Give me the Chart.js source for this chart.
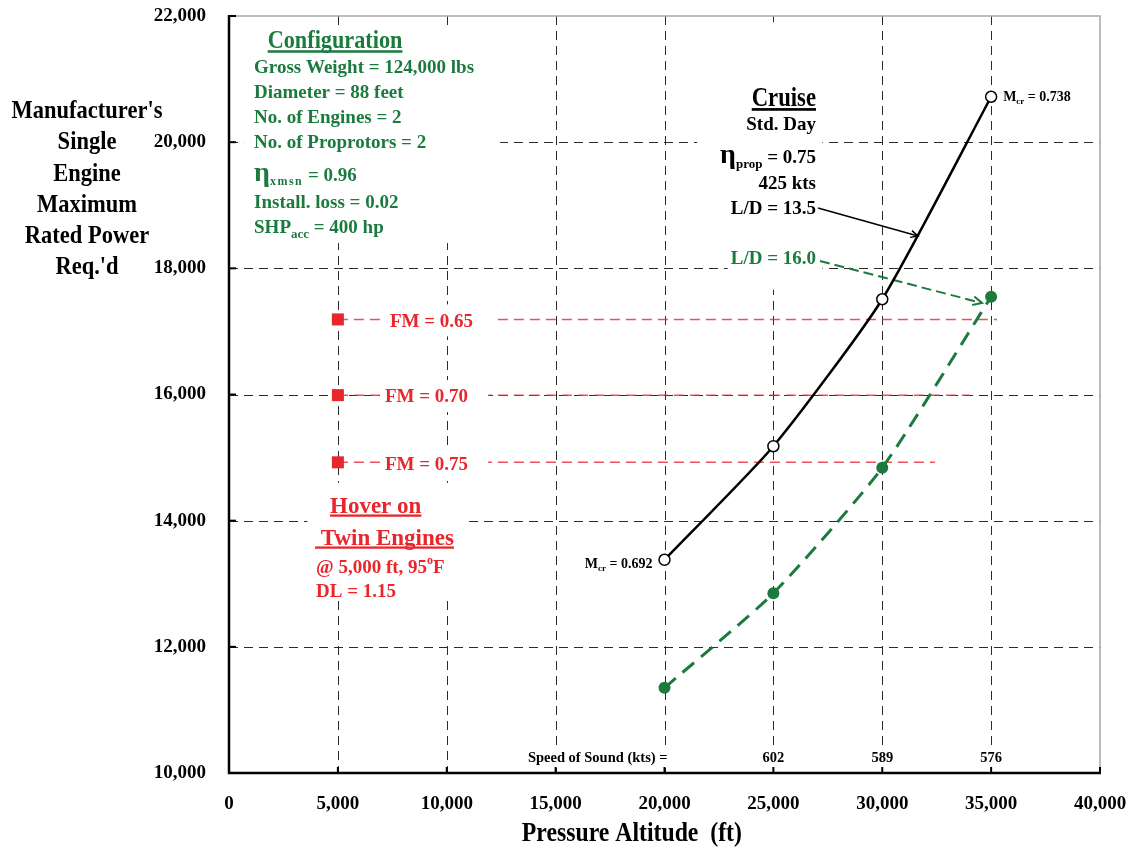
<!DOCTYPE html>
<html>
<head>
<meta charset="utf-8">
<script src="https://cdn.jsdelivr.net/npm/chart.js@4.4.1/dist/chart.umd.min.js"></script>
<style>
  html, body { margin: 0; padding: 0; background: #fff; }
  canvas { display: block; }
</style>
</head>
<body>
<canvas id="c" width="1130" height="848"></canvas>
<script>
// Pressure altitude (ft) of each cruise point
const altitudes = [20000, 25000, 30000, 35000];
// Single-engine maximum rated power required in cruise (hp)
const powerLD135 = [13380, 15180, 17510, 20720];
const powerLD160 = [11350, 12850, 14840, 17550];
// Critical Mach number at the ends of the L/D = 13.5 curve
const machAltitudes = [20000, 35000];
const machValues = [0.692, 0.738];
// Speed of sound at altitude (kts)
const soundAltitudes = [25000, 30000, 35000];
const soundSpeeds = [602, 589, 576];
// Hover on twin engines at 5,000 ft, 95°F, one line per figure of merit
const fmValues = ['0.65', '0.70', '0.75'];
const hoverAltitude = 5000;
const hoverPower = [17190, 15990, 14925];
const fmLineEnds = [35270, 34030, 32420];
// Axis ticks
const xTicks = [0, 5000, 10000, 15000, 20000, 25000, 30000, 35000, 40000];
const yTicks = [10000, 12000, 14000, 16000, 18000, 20000, 22000];

const SERIF = '"Liberation Serif", "Times New Roman", serif';
const GREEN = '#1b7a3e';
const RED = '#e8262b';
const RED_LINE = 'rgba(232, 38, 43, 0.8)';

// Draws a row of text runs (main text, subscripts, superscripts) on one baseline
function drawRuns(ctx, parts, x, yMid, opts = {}) {
  const main = opts.size || 19;
  const sxAll = opts.sx || 1;
  const baseline = yMid + main * 0.33;
  ctx.save();
  const widths = parts.map(p => {
    ctx.font = `bold ${p.size || main}px ${SERIF}`;
    ctx.letterSpacing = p.ls || '0px';
    return ctx.measureText(p.t).width * (p.sx || sxAll);
  });
  const total = widths.reduce((s, w) => s + w, 0);
  const align = opts.align || 'left';
  const left = align === 'left' ? x : align === 'right' ? x - total : x - total / 2;
  if (opts.bg) {
    const b = opts.bg;
    ctx.fillStyle = '#fff';
    ctx.fillRect(left - b.l, yMid - b.h / 2, total + b.l + b.r, b.h);
  }
  ctx.fillStyle = opts.color || '#000';
  ctx.textAlign = 'left';
  ctx.textBaseline = 'alphabetic';
  let cx = left;
  parts.forEach((p, i) => {
    ctx.font = `bold ${p.size || main}px ${SERIF}`;
    ctx.letterSpacing = p.ls || '0px';
    ctx.save();
    ctx.translate(cx, baseline + (p.dy || 0));
    ctx.scale(p.sx || sxAll, 1);
    ctx.fillText(p.t, 0, 0);
    ctx.restore();
    cx += widths[i];
  });
  if (opts.underline) {
    ctx.fillRect(left, baseline + main * 0.08, total, Math.max(2, main * 0.1));
  }
  ctx.restore();
  return { left, right: left + total };
}

function arrow(ctx, x1, y1, x2, y2, color, width, dash, head) {
  ctx.save();
  ctx.strokeStyle = color;
  ctx.lineWidth = width;
  ctx.setLineDash(dash);
  ctx.beginPath();
  ctx.moveTo(x1, y1);
  ctx.lineTo(x2, y2);
  ctx.stroke();
  ctx.setLineDash([]);
  const ang = Math.atan2(y2 - y1, x2 - x1);
  ctx.beginPath();
  ctx.moveTo(x2 - head * Math.cos(ang - 0.45), y2 - head * Math.sin(ang - 0.45));
  ctx.lineTo(x2, y2);
  ctx.lineTo(x2 - head * Math.cos(ang + 0.45), y2 - head * Math.sin(ang + 0.45));
  ctx.stroke();
  ctx.restore();
}

const notes = {
  id: 'notes',
  beforeDatasetsDraw(chart) {
    const { ctx, chartArea: a, scales: { x, y } } = chart;
    const P = (xv, yv) => [x.getPixelForValue(xv), y.getPixelForValue(yv)];
    const box = (x1, y1, x2, y2) => {
      const [p1, q1] = P(x1, y1), [p2, q2] = P(x2, y2);
      ctx.fillStyle = '#fff';
      ctx.fillRect(Math.min(p1, p2), Math.min(q1, q2), Math.abs(p2 - p1), Math.abs(q2 - q1));
    };

    // dashed grid at the inner ticks
    ctx.save();
    ctx.strokeStyle = '#2a2a2a';
    ctx.lineWidth = 1;
    ctx.setLineDash([9, 6]);
    x.ticks.forEach(t => {
      if (t.value <= x.min || t.value >= x.max) return;
      const px = Math.round(x.getPixelForValue(t.value)) + 0.5;
      ctx.beginPath(); ctx.moveTo(px, a.top); ctx.lineTo(px, a.bottom); ctx.stroke();
    });
    y.ticks.forEach(t => {
      if (t.value <= y.min || t.value >= y.max) return;
      const py = Math.round(y.getPixelForValue(t.value)) + 0.5;
      ctx.beginPath(); ctx.moveTo(a.left, py); ctx.lineTo(a.right, py); ctx.stroke();
    });
    ctx.restore();

    // Configuration block
    box(700, 21820, 12450, 18400);
    let [px, py] = P(4870, 21620);
    drawRuns(ctx, [{ t: 'Configuration' }], px, py, { size: 25, sx: 0.89, align: 'center', color: GREEN, underline: true });
    const cfgX = x.getPixelForValue(1150);
    const cfgRows = [
      [21192, [{ t: 'Gross Weight = 124,000 lbs' }]],
      [20795, [{ t: 'Diameter = 88 feet' }]],
      [20399, [{ t: 'No. of Engines = 2' }]],
      [20003, [{ t: 'No. of Proprotors = 2' }]],
      [19480, [{ t: 'η', size: 28 }, { t: 'xmsn', size: 12, dy: 4, ls: '1.5px' }, { t: ' = 0.96' }]],
      [19052, [{ t: 'Install. loss = 0.02' }]],
      [18655, [{ t: 'SHP' }, { t: 'acc', size: 13, dy: 5 }, { t: ' = 400 hp' }]]
    ];
    cfgRows.forEach(([v, parts]) => drawRuns(ctx, parts, cfgX, y.getPixelForValue(v), { color: GREEN }));

    // Cruise block
    box(21500, 21900, 27250, 18690);
    box(22900, 18690, 27250, 17660);
    const crX = x.getPixelForValue(26957);
    drawRuns(ctx, [{ t: 'Cruise' }], crX, y.getPixelForValue(20716), { size: 27, sx: 0.84, align: 'right', underline: true });
    drawRuns(ctx, [{ t: 'Std. Day' }], crX, y.getPixelForValue(20288), { align: 'right' });
    drawRuns(ctx, [{ t: 'η', size: 28 }, { t: 'prop', size: 13, dy: 5 }, { t: ' = 0.75' }], crX, y.getPixelForValue(19765), { align: 'right' });
    drawRuns(ctx, [{ t: '425 kts' }], crX, y.getPixelForValue(19353), { align: 'right' });
    drawRuns(ctx, [{ t: 'L/D = 13.5' }], crX, y.getPixelForValue(18956), { align: 'right' });
    drawRuns(ctx, [{ t: 'L/D = 16.0' }], crX, y.getPixelForValue(18163), { align: 'right', color: GREEN });

    // leaders from the L/D notes to their curves
    let s = P(27050, 18957), e = P(31640, 18513);
    arrow(ctx, s[0], s[1], e[0], e[1], '#000', 1.5, [], 8);
    s = P(27140, 18117); e = P(34580, 17450);
    arrow(ctx, s[0], s[1], e[0], e[1], GREEN, 2, [10, 5], 10);

    // Hover block
    box(3600, 14600, 10750, 12750);
    drawRuns(ctx, [{ t: 'Hover on' }], x.getPixelForValue(4638), y.getPixelForValue(14248), { size: 23, color: RED, underline: true });
    drawRuns(ctx, [{ t: ' Twin Engines' }], x.getPixelForValue(3950), y.getPixelForValue(13741), { size: 23, color: RED, underline: true });
    drawRuns(ctx, [{ t: '@ 5,000 ft, 95' }, { t: 'o', size: 12, dy: -9 }, { t: 'F' }], x.getPixelForValue(3995), y.getPixelForValue(13266), { color: RED });
    drawRuns(ctx, [{ t: 'DL = 1.15' }], x.getPixelForValue(3995), y.getPixelForValue(12885), { color: RED });

    // speed of sound row
    const sy = a.bottom - 16;
    drawRuns(ctx, [{ t: 'Speed of Sound (kts) =' }], x.getPixelForValue(20000) + 3, sy, { size: 14.5, align: 'right', bg: { l: 2, r: 2, h: 22 } });
    soundAltitudes.forEach((alt, i) => {
      drawRuns(ctx, [{ t: String(soundSpeeds[i]) }], x.getPixelForValue(alt), sy, { size: 14.5, align: 'center', bg: { l: 3, r: 3, h: 24 } });
    });
  },
  afterDatasetsDraw(chart) {
    const { ctx, chartArea: a, scales: { x, y } } = chart;

    // figure-of-merit notes sitting on their lines
    const fmX = [7394, 7164, 7164];
    fmValues.forEach((fm, i) => {
      drawRuns(ctx, [{ t: 'FM = ' + fm }], x.getPixelForValue(fmX[i]), y.getPixelForValue(hoverPower[i]) + 1,
        { color: RED, bg: { l: 5, r: 20, h: 32 } });
    });

    // critical Mach numbers
    machAltitudes.forEach((alt, i) => {
      const idx = altitudes.indexOf(alt);
      const px = x.getPixelForValue(alt), py = y.getPixelForValue(powerLD135[idx]);
      const parts = [{ t: 'M' }, { t: 'cr', size: 9, dy: 3 }, { t: ' = ' + machValues[i].toFixed(3) }];
      if (i === 0) drawRuns(ctx, parts, px - 12, py + 4, { size: 14, align: 'right' });
      else drawRuns(ctx, parts, px + 12, py, { size: 14, align: 'left' });
    });

    // frame: solid axes on the left and bottom, light rule on top and right
    ctx.save();
    ctx.strokeStyle = '#a8a8a8';
    ctx.lineWidth = 1.5;
    ctx.beginPath();
    ctx.moveTo(a.left, a.top); ctx.lineTo(a.right, a.top); ctx.lineTo(a.right, a.bottom);
    ctx.stroke();
    ctx.strokeStyle = '#000';
    ctx.lineWidth = 2.5;
    ctx.beginPath();
    ctx.moveTo(a.left, a.top - 1); ctx.lineTo(a.left, a.bottom); ctx.lineTo(a.right + 1, a.bottom);
    ctx.stroke();
    ctx.lineWidth = 2;
    y.ticks.forEach(t => {
      const py = y.getPixelForValue(t.value);
      ctx.beginPath(); ctx.moveTo(a.left, py); ctx.lineTo(a.left + 7, py); ctx.stroke();
    });
    x.ticks.forEach(t => {
      const px = x.getPixelForValue(t.value);
      ctx.beginPath(); ctx.moveTo(px, a.bottom); ctx.lineTo(px, a.bottom - 6); ctx.stroke();
    });
    ctx.restore();
  },
  afterDraw(chart) {
    const { ctx, chartArea: a, scales: { x } } = chart;
    // vertical axis title, set horizontally in stacked lines
    const yTitle = ["Manufacturer's", 'Single', 'Engine', 'Maximum', 'Rated Power', "Req.'d"];
    yTitle.forEach((line, i) => {
      drawRuns(ctx, [{ t: line }], 87, a.top + 94 + i * 31.2, { size: 25, sx: 0.9, align: 'center' });
    });
    drawRuns(ctx, [{ t: 'Pressure Altitude  (ft)' }], x.getPixelForValue(18500), a.bottom + 59, { size: 27, sx: 0.88, align: 'center' });
  }
};

const toPoints = (xs, ys) => xs.map((v, i) => ({ x: v, y: ys[i] }));

new Chart(document.getElementById('c'), {
  type: 'scatter',
  data: {
    datasets: [
      {
        label: 'L/D = 13.5',
        data: toPoints(altitudes, powerLD135),
        showLine: true,
        borderColor: '#000',
        borderWidth: 2.5,
        tension: 0.2,
        pointRadius: 5.5,
        pointBackgroundColor: '#fff',
        pointBorderColor: '#000',
        pointBorderWidth: 1.5,
        order: 0
      },
      {
        label: 'L/D = 16.0',
        data: toPoints(altitudes, powerLD160),
        showLine: true,
        borderColor: GREEN,
        borderWidth: 3,
        borderDash: [15, 9],
        tension: 0.2,
        pointRadius: 6,
        pointBackgroundColor: GREEN,
        pointBorderColor: GREEN,
        pointBorderWidth: 0,
        order: 1
      },
      ...fmValues.map((fm, i) => ({
        label: 'FM = ' + fm,
        data: [{ x: hoverAltitude, y: hoverPower[i] }, { x: fmLineEnds[i], y: hoverPower[i] }],
        showLine: true,
        borderColor: RED_LINE,
        borderWidth: 1.5,
        borderDash: [10, 6],
        pointStyle: 'rect',
        pointRadius: [8.5, 0],
        pointBackgroundColor: RED,
        pointBorderColor: RED,
        pointBorderWidth: 0,
        order: 2
      }))
    ]
  },
  options: {
    responsive: false,
    animation: false,
    devicePixelRatio: 1,
    events: [],
    layout: { padding: { top: 16, right: 30, left: 0, bottom: 0 } },
    plugins: { legend: { display: false }, tooltip: { enabled: false } },
    scales: {
      x: {
        type: 'linear',
        min: xTicks[0],
        max: xTicks[xTicks.length - 1],
        afterBuildTicks: s => { s.ticks = xTicks.map(v => ({ value: v })); },
        afterFit: s => { s.height = 75; s.paddingLeft = 0; s.paddingRight = 0; },
        grid: { display: false },
        border: { display: false },
        ticks: {
          padding: 12,
          maxRotation: 0,
          color: '#000',
          font: { family: SERIF, size: 19, weight: 'bold' },
          callback: v => v.toLocaleString('en-US')
        }
      },
      y: {
        type: 'linear',
        min: yTicks[0],
        max: yTicks[yTicks.length - 1],
        afterBuildTicks: s => { s.ticks = yTicks.map(v => ({ value: v })); },
        afterFit: s => { s.width = 229; s.paddingTop = 0; s.paddingBottom = 0; },
        grid: { display: false },
        border: { display: false },
        ticks: {
          padding: 15,
          color: '#000',
          font: { family: SERIF, size: 19, weight: 'bold' },
          callback: v => v.toLocaleString('en-US')
        }
      }
    }
  },
  plugins: [notes]
});
</script>
</body>
</html>
